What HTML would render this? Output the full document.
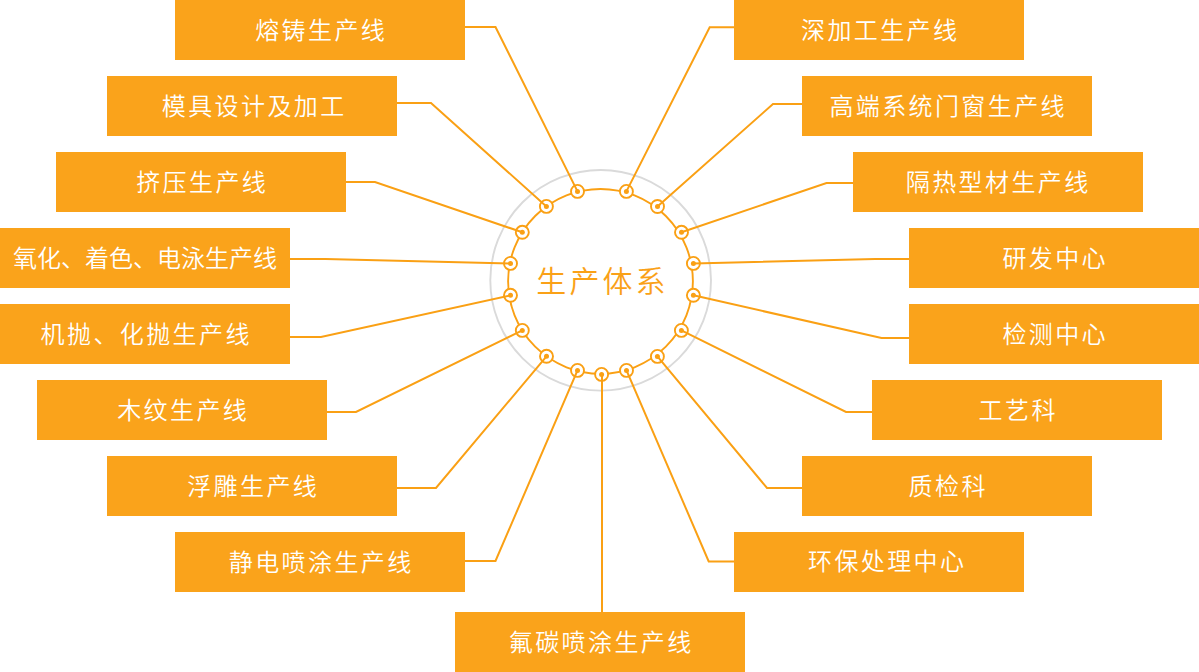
<!DOCTYPE html>
<html lang="zh-CN">
<head>
<meta charset="utf-8">
<title>生产体系</title>
<style>
html,body{margin:0;padding:0;background:#fff;}
body{width:1199px;height:672px;position:relative;overflow:hidden;font-family:"Liberation Sans","Noto Sans CJK SC",sans-serif;}
#wrap{position:absolute;left:0;top:0;width:1199px;height:672px;overflow:hidden;}
svg{position:absolute;left:0;top:0;}
.b{position:absolute;width:290px;height:60px;background:#FAA31B;color:#fff;font-size:24px;font-weight:350;letter-spacing:2.4px;line-height:60px;text-align:center;white-space:nowrap;}
.b span{display:inline-block;position:relative;left:1.2px;top:1px;}
.b.t0{letter-spacing:0;}
.b.t0 span{left:0;}
#title{position:absolute;left:500px;top:250px;width:200px;height:60px;line-height:60px;text-align:center;color:#FAA117;font-size:30px;font-weight:350;letter-spacing:3.1px;white-space:nowrap;}
#title span{display:inline-block;position:relative;left:2.5px;top:2px;}
</style>
</head>
<body>
<div id="wrap">
<svg width="1199" height="672" viewBox="0 0 1199 672">
<circle cx="600.65" cy="280.3" r="110.35" fill="none" stroke="#dadada" stroke-width="1.9"/>
<circle cx="600.5" cy="281.35" r="92.4" fill="none" stroke="#FAA014" stroke-width="1.9"/>
<circle cx="577.5" cy="191.4" r="6.5" fill="#fff" stroke="#FAA014" stroke-width="1.9"/>
<circle cx="626.4" cy="191.4" r="6.5" fill="#fff" stroke="#FAA014" stroke-width="1.9"/>
<circle cx="546.4" cy="206.4" r="6.5" fill="#fff" stroke="#FAA014" stroke-width="1.9"/>
<circle cx="657.5" cy="206.5" r="6.5" fill="#fff" stroke="#FAA014" stroke-width="1.9"/>
<circle cx="522.3" cy="232.3" r="6.5" fill="#fff" stroke="#FAA014" stroke-width="1.9"/>
<circle cx="681.5" cy="232.3" r="6.5" fill="#fff" stroke="#FAA014" stroke-width="1.9"/>
<circle cx="510.5" cy="263.4" r="6.5" fill="#fff" stroke="#FAA014" stroke-width="1.9"/>
<circle cx="693.4" cy="263.4" r="6.5" fill="#fff" stroke="#FAA014" stroke-width="1.9"/>
<circle cx="510.5" cy="295.3" r="6.5" fill="#fff" stroke="#FAA014" stroke-width="1.9"/>
<circle cx="693.4" cy="295.3" r="6.5" fill="#fff" stroke="#FAA014" stroke-width="1.9"/>
<circle cx="522.3" cy="330.4" r="6.5" fill="#fff" stroke="#FAA014" stroke-width="1.9"/>
<circle cx="681.4" cy="330.4" r="6.5" fill="#fff" stroke="#FAA014" stroke-width="1.9"/>
<circle cx="546.5" cy="356.3" r="6.5" fill="#fff" stroke="#FAA014" stroke-width="1.9"/>
<circle cx="657.4" cy="356.4" r="6.5" fill="#fff" stroke="#FAA014" stroke-width="1.9"/>
<circle cx="577.5" cy="370.4" r="6.5" fill="#fff" stroke="#FAA014" stroke-width="1.9"/>
<circle cx="626.5" cy="370.4" r="6.5" fill="#fff" stroke="#FAA014" stroke-width="1.9"/>
<circle cx="601.6" cy="374.4" r="6.5" fill="#fff" stroke="#FAA014" stroke-width="1.9"/>
<polyline points="465,27 495.5,27 577.5,191.4" fill="none" stroke="#FAA014" stroke-width="2" stroke-linejoin="miter"/>
<polyline points="397,103 431,103 546.4,206.4" fill="none" stroke="#FAA014" stroke-width="2" stroke-linejoin="miter"/>
<polyline points="346,182 375,182 522.3,232.3" fill="none" stroke="#FAA014" stroke-width="2" stroke-linejoin="miter"/>
<polyline points="290,259 325.5,259 510.5,263.4" fill="none" stroke="#FAA014" stroke-width="2" stroke-linejoin="miter"/>
<polyline points="290,337 321,337 510.5,295.3" fill="none" stroke="#FAA014" stroke-width="2" stroke-linejoin="miter"/>
<polyline points="327,412 356,412 522.3,330.4" fill="none" stroke="#FAA014" stroke-width="2" stroke-linejoin="miter"/>
<polyline points="397,488 436,488 546.5,356.3" fill="none" stroke="#FAA014" stroke-width="2" stroke-linejoin="miter"/>
<polyline points="465,561 495.5,561 577.5,370.4" fill="none" stroke="#FAA014" stroke-width="2" stroke-linejoin="miter"/>
<polyline points="602,612 602,374.4" fill="none" stroke="#FAA014" stroke-width="2" stroke-linejoin="miter"/>
<polyline points="734,27.3 709.7,27.3 626.4,191.4" fill="none" stroke="#FAA014" stroke-width="2" stroke-linejoin="miter"/>
<polyline points="802,104 773,104 657.5,206.5" fill="none" stroke="#FAA014" stroke-width="2" stroke-linejoin="miter"/>
<polyline points="853,183 826.5,183 681.5,232.3" fill="none" stroke="#FAA014" stroke-width="2" stroke-linejoin="miter"/>
<polyline points="909,259 875,259 693.4,263.4" fill="none" stroke="#FAA014" stroke-width="2" stroke-linejoin="miter"/>
<polyline points="909,338 881.5,338 693.4,295.3" fill="none" stroke="#FAA014" stroke-width="2" stroke-linejoin="miter"/>
<polyline points="872,412 846,412 681.4,330.4" fill="none" stroke="#FAA014" stroke-width="2" stroke-linejoin="miter"/>
<polyline points="802,488 767,488 657.4,356.4" fill="none" stroke="#FAA014" stroke-width="2" stroke-linejoin="miter"/>
<polyline points="734,561.4 708.7,561.4 626.5,370.4" fill="none" stroke="#FAA014" stroke-width="2" stroke-linejoin="miter"/>
<circle cx="577.5" cy="191.4" r="2.5" fill="#FAA014"/>
<circle cx="626.4" cy="191.4" r="2.5" fill="#FAA014"/>
<circle cx="546.4" cy="206.4" r="2.5" fill="#FAA014"/>
<circle cx="657.5" cy="206.5" r="2.5" fill="#FAA014"/>
<circle cx="522.3" cy="232.3" r="2.5" fill="#FAA014"/>
<circle cx="681.5" cy="232.3" r="2.5" fill="#FAA014"/>
<circle cx="510.5" cy="263.4" r="2.5" fill="#FAA014"/>
<circle cx="693.4" cy="263.4" r="2.5" fill="#FAA014"/>
<circle cx="510.5" cy="295.3" r="2.5" fill="#FAA014"/>
<circle cx="693.4" cy="295.3" r="2.5" fill="#FAA014"/>
<circle cx="522.3" cy="330.4" r="2.5" fill="#FAA014"/>
<circle cx="681.4" cy="330.4" r="2.5" fill="#FAA014"/>
<circle cx="546.5" cy="356.3" r="2.5" fill="#FAA014"/>
<circle cx="657.4" cy="356.4" r="2.5" fill="#FAA014"/>
<circle cx="577.5" cy="370.4" r="2.5" fill="#FAA014"/>
<circle cx="626.5" cy="370.4" r="2.5" fill="#FAA014"/>
<circle cx="601.6" cy="374.4" r="2.5" fill="#FAA014"/>
</svg>
<div class="b" style="left:175px;top:0px"><span>熔铸生产线</span></div>
<div class="b" style="left:107px;top:76px"><span style="left:2.2px;top:1px">模具设计及加工</span></div>
<div class="b" style="left:56px;top:152px"><span>挤压生产线</span></div>
<div class="b t0" style="left:0px;top:228px"><span>氧化、着色、电泳生产线</span></div>
<div class="b" style="left:0px;top:304px"><span>机抛、化抛生产线</span></div>
<div class="b" style="left:37px;top:380px"><span>木纹生产线</span></div>
<div class="b" style="left:107px;top:456px"><span>浮雕生产线</span></div>
<div class="b" style="left:175px;top:532px"><span>静电喷涂生产线</span></div>
<div class="b" style="left:455px;top:612px"><span>氟碳喷涂生产线</span></div>
<div class="b" style="left:734px;top:0px"><span>深加工生产线</span></div>
<div class="b" style="left:802px;top:76px"><span>高端系统门窗生产线</span></div>
<div class="b" style="left:853px;top:152px"><span style="left:0.19999999999999996px;top:1px">隔热型材生产线</span></div>
<div class="b" style="left:909px;top:228px"><span>研发中心</span></div>
<div class="b" style="left:909px;top:304px"><span>检测中心</span></div>
<div class="b" style="left:872px;top:380px"><span>工艺科</span></div>
<div class="b" style="left:802px;top:456px"><span>质检科</span></div>
<div class="b" style="left:734px;top:532px"><span style="left:8.2px;top:0px">环保处理中心</span></div>
<div id="title"><span>生产体系</span></div>
</div>
</body>
</html>
